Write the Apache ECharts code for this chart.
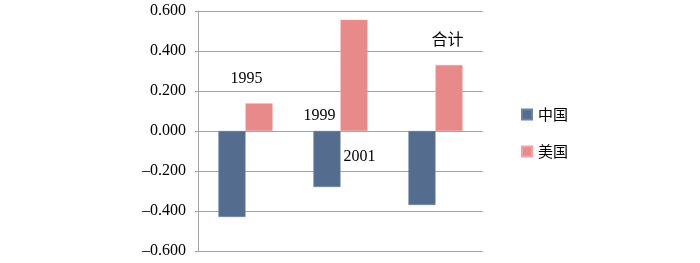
<!DOCTYPE html>
<html><head><meta charset="utf-8">
<script src="https://cdn.jsdelivr.net/npm/echarts@6/dist/echarts.min.js"></script>
<style>html,body{margin:0;padding:0;background:#fff}#c{width:700px;height:263px}</style>
</head><body><div id="c"></div>
<script>
var categories = ['1995', '1999-2001', '合计'];
var seriesNames = ['中国', '美国'];
var chinaValues = [-0.430, -0.280, -0.370];
var usValues = [0.138, 0.556, 0.330];
var yTicks = [-0.6, -0.4, -0.2, 0, 0.2, 0.4, 0.6];
// category label texts and where they sit in data space
var catLabelTexts = ['1995', '1999', '2001', '合计'];
var catLabelCats = [0, 1, 1, 2];
var catLabelValues = [0.26, 0.075, -0.13, 0.46];
var catLabelDx = [1, -21, 19, 12];

var chart = echarts.init(document.getElementById('c'));
var serif = '"Liberation Serif", "Times New Roman", serif';
var option = {
  animation: false,
  grid: {left: 198, right: 217, top: 11, bottom: 12, containLabel: false},
  legend: {
    orient: 'vertical', left: 516, top: 102, itemWidth: 10, itemHeight: 10, itemGap: 22,
    icon: 'rect',
    textStyle: {fontFamily: '"Noto Sans CJK SC", sans-serif', fontSize: 15, color: '#000', padding: [0,0,0,1]},
    data: seriesNames
  },
  xAxis: {
    type: 'category', data: categories,
    axisLine: {show: false}, axisTick: {show: false}, axisLabel: {show: false}
  },
  yAxis: {
    type: 'value', min: yTicks[0], max: yTicks[yTicks.length-1], interval: 0.2,
    axisLine: {show: true, lineStyle: {color: '#a8a3a3', width: 1}},
    axisTick: {show: true, length: 3, lineStyle: {color: '#a8a3a3'}},
    splitLine: {show: true, lineStyle: {color: '#a8a3a3', width: 1}},
    axisLabel: {
      fontFamily: serif, fontSize: 16, color: '#000', margin: 12,
      formatter: function (v) { return v.toFixed(3).replace('-', '\u2013'); }
    }
  },
  series: [
    {name: seriesNames[0], type: 'bar', data: chinaValues, barGap: '0%', barCategoryGap: '43%',
     itemStyle: {color: '#546d8e', borderColor: '#6a82a3', borderWidth: 0.5}},
    {name: seriesNames[1], type: 'bar', data: usValues,
     itemStyle: {color: '#e8898a', borderColor: '#f0a3a3', borderWidth: 0.5}}
  ]
};
chart.setOption(option);
var g = [];
for (var i = 0; i < catLabelTexts.length; i++) {
  var p = chart.convertToPixel({gridIndex: 0}, [catLabelCats[i], catLabelValues[i]]);
  g.push({type: 'text', x: p[0] + catLabelDx[i], y: p[1],
    style: {text: catLabelTexts[i], fill: '#000', align: 'center', verticalAlign: 'middle',
      font: '16px ' + (catLabelTexts[i] === '合计' ? '"Noto Sans CJK SC", sans-serif' : serif)}});
}
chart.setOption({graphic: g});
</script></body></html>
